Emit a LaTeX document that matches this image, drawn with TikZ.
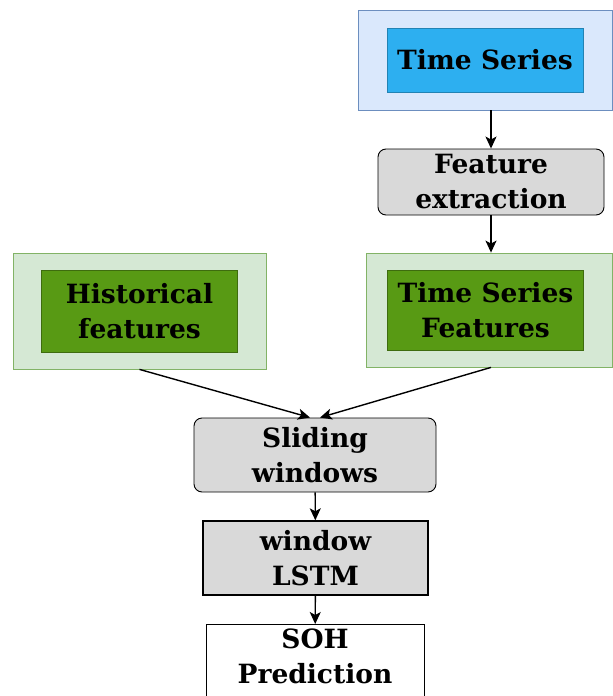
\documentclass[tikz,border=0pt]{standalone}
\usepackage{fontspec}
\setmainfont{DejaVu Serif}
\usepackage{tikz}
\usetikzlibrary{arrows.meta,positioning,fit}
\definecolor{tsout}{HTML}{DAE8FC}
\definecolor{tsline}{HTML}{6C8EBF}
\definecolor{tsin}{HTML}{2DAFF0}
\definecolor{ftout}{HTML}{D5E8D4}
\definecolor{ftline}{HTML}{82B366}
\definecolor{ftin}{HTML}{589A14}
\definecolor{stg}{HTML}{D9D9D9}

\begin{document}
\begin{tikzpicture}[x=1pt, y=-1pt, font=\fontsize{26.5}{35}\selectfont\bfseries,
  inbox/.style={draw, align=center, minimum width=196pt, inner sep=2pt},
  outbox/.style={draw, inner xsep=28pt, inner ysep=17pt},
  stp/.style={draw, rounded corners=8pt, fill=stg, align=center, line width=0.9pt},
  arr/.style={-{Stealth[length=12pt, width=11pt, inset=3pt]}, line width=1.4pt}]
\useasboundingbox (0,0) rectangle (613,696);
\node[inbox, fill=tsin, draw=tsin!75!black, minimum height=64pt] (ts) at (485,60) {Time Series};
\node[outbox, fill=tsout, draw=tsline, inner xsep=29pt, inner ysep=18pt, fit=(ts)] (tsbox) {};
\node[inbox, fill=tsin, draw=tsin!75!black, minimum height=64pt] at (ts) {Time Series};
\node[stp, minimum width=226pt, minimum height=66pt] (fe) at (491,182) {Feature\\extraction};
\node[inbox, fill=ftin, draw=ftin!70!black, minimum height=82pt] (hf) at (139.5,311) {Historical\\features};
\node[outbox, fill=ftout, draw=ftline, fit=(hf)] (hfbox) {};
\node[inbox, fill=ftin, draw=ftin!70!black, minimum height=82pt] at (hf) {Historical\\features};
\node[inbox, fill=ftin, draw=ftin!70!black, minimum height=80pt] (tf) at (485.5,310) {Time Series\\Features};
\node[outbox, fill=ftout, draw=ftline, inner xsep=25pt, xshift=3.5pt, fit=(tf)] (tfbox) {};
\node[inbox, fill=ftin, draw=ftin!70!black, minimum height=80pt] at (tf) {Time Series\\Features};
\node[stp, minimum width=242pt, minimum height=74pt] (sw) at (315,455) {Sliding\\windows};
\node[draw, fill=stg, align=center, line width=1.4pt, minimum width=225pt, minimum height=74pt] (lstm) at (315.5,558) {window\\LSTM};
\node[draw, fill=white, line width=0.9pt, minimum width=218pt, minimum height=84pt, anchor=north] (soh) at (315,624) {};
\node[align=center, anchor=north, inner xsep=1pt, inner ysep=5pt] (sohtxt) at (soh.north) {SOH\\Prediction};
\draw[arr] (tsbox.south -| fe) -- (fe);
\draw[arr] (fe) -- (tfbox.north -| fe);
\draw[arr] (hfbox.south) -- ([xshift=-5pt]sw.north);
\draw[arr] (tfbox.south -| fe) -- ([xshift=5pt]sw.north);
\foreach \a/\b in {sw/lstm, lstm/soh} \draw[arr] (\a) -- (\b);
\end{tikzpicture}
\end{document}
